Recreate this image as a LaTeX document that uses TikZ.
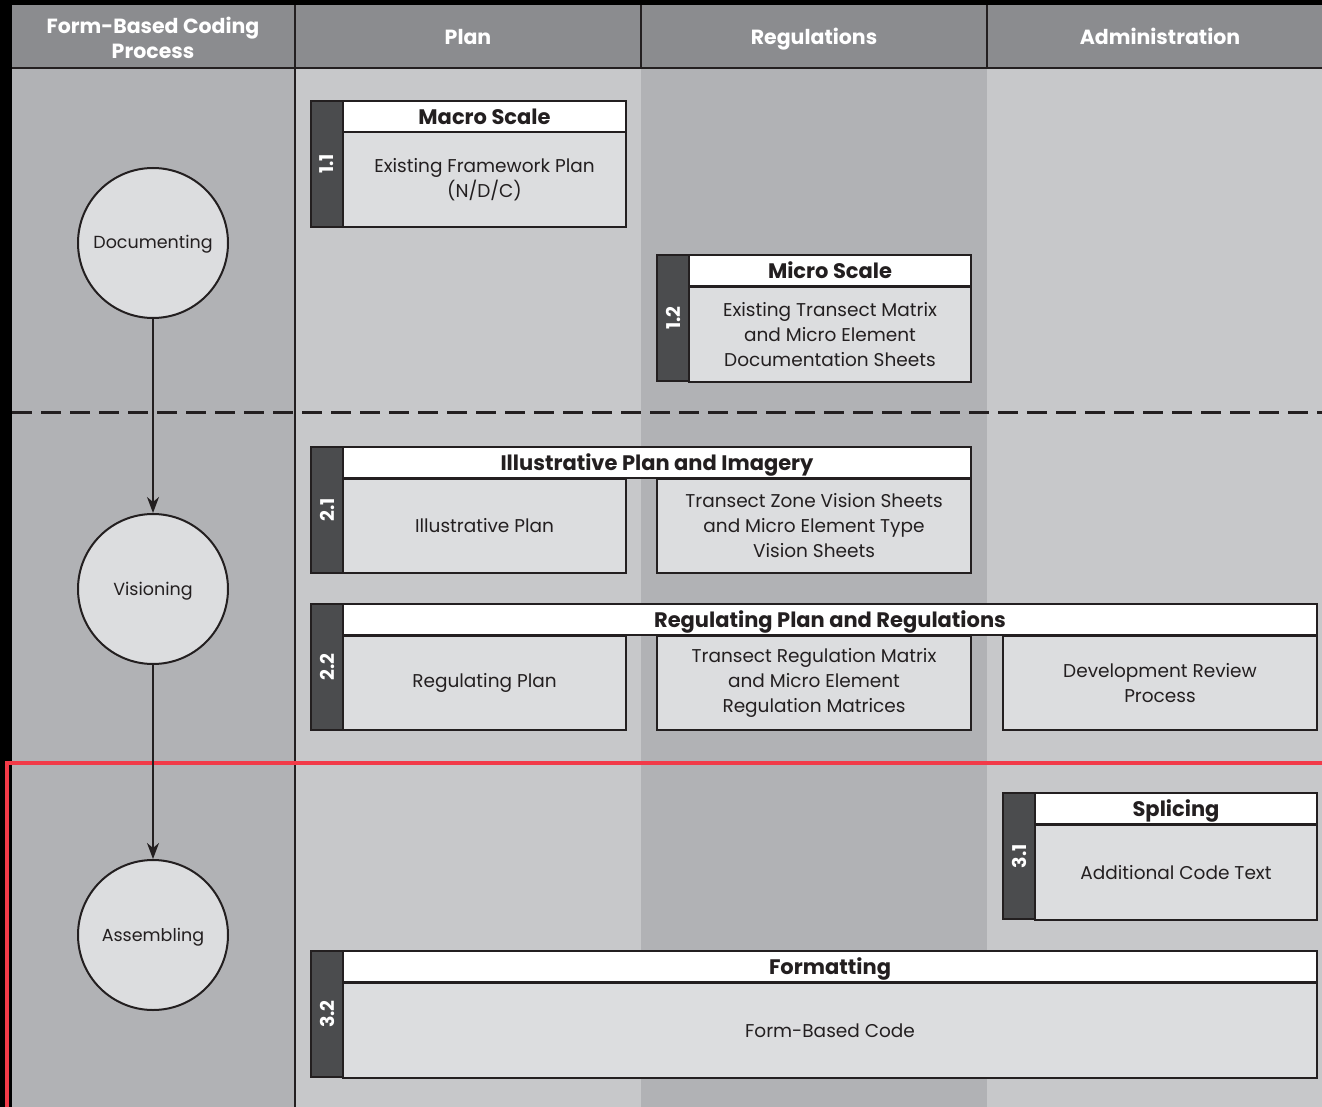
\documentclass[tikz,border=0pt]{standalone}
\usepackage{fontspec}
\setmainfont{Poppins}
\usetikzlibrary{arrows.meta}

\definecolor{ink}{HTML}{231F20}
\definecolor{hdgray}{HTML}{8B8C8F}
\definecolor{midgray}{HTML}{B1B2B5}
\definecolor{ltgray}{HTML}{C7C8CA}
\definecolor{boxgray}{HTML}{DCDDDF}
\definecolor{tabgray}{HTML}{4B4C4E}
\definecolor{redline}{HTML}{F23A48}

\tikzset{
  stage/.style={draw=ink, circle, fill=boxgray, minimum size=150pt, line width=2pt, text=ink, text height=13pt, text depth=1pt, font=\fontsize{17.5}{20}\selectfont},
  tab/.style={draw=ink, fill=tabgray, line width=2.5pt, outer sep=0pt, anchor=north west, minimum width=32pt, minimum height=126pt, inner sep=0pt},
  tabnum/.style={rotate=90, text=white, font=\bfseries\fontsize{19}{20}\selectfont},
  hdr/.style={draw=ink, fill=white, line width=2.5pt, outer sep=0pt, anchor=north west, minimum height=31pt, inner sep=0pt, text height=17pt, text depth=1.5pt, text=ink, font=\bfseries\fontsize{21}{22}\selectfont},
  body/.style={draw=ink, fill=boxgray, line width=2.5pt, outer sep=0pt, anchor=north west, minimum height=95pt, inner sep=0pt, align=center, text=ink, font=\fontsize{18.5}{25}\selectfont},
  colhead/.style={text=white, align=center, font=\bfseries\fontsize{20.5}{25}\selectfont},
  onehead/.style={colhead, text height=17pt, text depth=1.5pt},
  flow/.style={draw=ink, line width=1.5pt, -{Stealth[length=16pt,width=12pt,inset=5pt]}}
}

\begin{document}
\begin{tikzpicture}[x=1pt, y=-1pt]
	\useasboundingbox (0,0) rectangle (1322,1107);

	% lanes
	\fill[black] (0,0) rectangle (1322,1107);
	\fill[midgray] (12,68) rectangle (295,1107);
	\fill[ltgray] (295,68) rectangle (641,1107);
	\fill[midgray] (641,68) rectangle (987,1107);
	\fill[ltgray] (987,68) rectangle (1322,1107);
	\fill[hdgray] (12,5) rectangle (1322,68);
	\draw[ink, line width=2.5pt] (12,68) -- (1322,68);
	\foreach \x in {295,641,987}
		\draw[ink, line width=2.5pt] (\x,5) -- (\x,68);
	\draw[ink, line width=2.5pt] (295,68) -- (295,1107);
	\draw[ink, line width=3pt, dash pattern=on 20pt off 9pt] (12,412) -- (1322,412);
	\draw[redline, line width=4pt] (1322,763) -- (7,763) -- (7,1107);

	\node[colhead] (hproc) at (153,38) {Form-Based Coding\\Process};
	\node[onehead] (hplan) at (468,37) {Plan};
	\node[onehead] (hreg) at (814,37) {Regulations};
	\node[onehead] (hadm) at (1160,37) {Administration};

	% stages
	\node[stage] (doc) at (153,243) {Documenting};
	\node[stage] (vis) at (153,589) {Visioning};
	\node[stage] (asm) at (153,935) {Assembling};
	\draw[flow] (doc) -- (vis);
	\draw[flow] (vis) -- (asm);

	% 1.1
	\node[tab] (t11) at (311,101) {};
	\node[tabnum] (n11) at (t11.center) {1.1};
	\node[hdr, minimum width=283pt] (h11) at (343,101) {Macro Scale};
	\node[body, minimum width=283pt] (b11) at (343,132) {Existing Framework Plan\\(N/D/C)};

	% 1.2
	\node[tab] (t12) at (657,255) {};
	\node[tabnum] (n12) at (t12.center) {1.2};
	\node[hdr, minimum width=282pt] (h12) at (689,255) {Micro Scale};
	\node[body, minimum width=282pt] (b12) at (689,287) {Existing Transect Matrix\\and Micro Element\\Documentation Sheets};

	% 2.1
	\node[tab] (t21) at (311,447) {};
	\node[tabnum] (n21) at (t21.center) {2.1};
	\node[hdr, minimum width=628pt] (h21) at (343,447) {Illustrative Plan and Imagery};
	\node[body, minimum width=283pt, minimum height=94pt] (b21a) at (343,479) {Illustrative Plan};
	\node[body, minimum width=314pt, minimum height=94pt] (b21b) at (657,479) {Transect Zone Vision Sheets\\and Micro Element Type\\Vision Sheets};

	% 2.2
	\node[tab] (t22) at (311,604) {};
	\node[tabnum] (n22) at (t22.center) {2.2};
	\node[hdr, minimum width=974pt] (h22) at (343,604) {Regulating Plan and Regulations};
	\node[body, minimum width=283pt, minimum height=94pt] (b22a) at (343,636) {Regulating Plan};
	\node[body, minimum width=314pt, minimum height=94pt] (b22b) at (657,636) {Transect Regulation Matrix\\and Micro Element\\Regulation Matrices};
	\node[body, minimum width=314pt, minimum height=94pt] (b22c) at (1003,636) {Development Review\\Process};

	% 3.1
	\node[tab] (t31) at (1003,793) {};
	\node[tabnum] (n31) at (t31.center) {3.1};
	\node[hdr, minimum width=282pt] (h31) at (1035,793) {Splicing};
	\node[body, minimum width=282pt] (b31) at (1035,825) {Additional Code Text};

	% 3.2
	\node[tab] (t32) at (311,951) {};
	\node[tabnum] (n32) at (t32.center) {3.2};
	\node[hdr, minimum width=974pt] (h32) at (343,951) {Formatting};
	\node[body, minimum width=974pt] (b32) at (343,983) {Form-Based Code};
\end{tikzpicture}
\end{document}
